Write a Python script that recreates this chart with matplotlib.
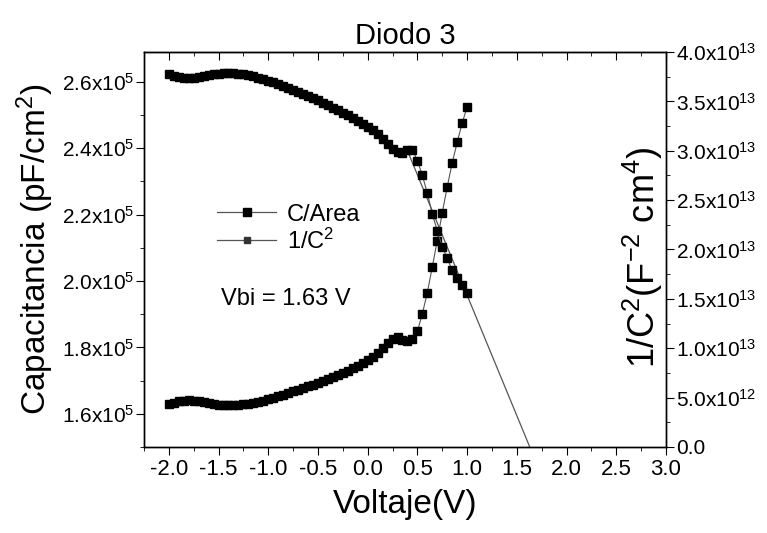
import numpy as np
import matplotlib
matplotlib.use('Agg')
from matplotlib import pyplot as plt
from matplotlib.ticker import MultipleLocator, FuncFormatter
from matplotlib.lines import Line2D

plt.rcParams['font.family'] = ['Liberation Sans', 'DejaVu Sans']
plt.rcParams['mathtext.fontset'] = 'custom'
plt.rcParams['mathtext.rm'] = 'Liberation Sans'
plt.rcParams['mathtext.it'] = 'Liberation Sans'
plt.rcParams['mathtext.default'] = 'regular'

#   Voltage sweep, -2.0 V to 1.0 V in 0.05 V steps
voltaje = [-2.00, -1.95, -1.90, -1.85, -1.80, -1.75, -1.70, -1.65, -1.60, -1.55,
           -1.50, -1.45, -1.40, -1.35, -1.30, -1.25, -1.20, -1.15, -1.10, -1.05,
           -1.00, -0.95, -0.90, -0.85, -0.80, -0.75, -0.70, -0.65, -0.60, -0.55,
           -0.50, -0.45, -0.40, -0.35, -0.30, -0.25, -0.20, -0.15, -0.10, -0.05,
           0.00, 0.05, 0.10, 0.15, 0.20, 0.25, 0.30, 0.35, 0.40, 0.45,
           0.50, 0.55, 0.60, 0.65, 0.70, 0.75, 0.80, 0.85, 0.90, 0.95, 1.00]

#   C/Area in units of 1e5 pF/cm2
c_area = [1.628, 1.633, 1.638, 1.640, 1.641, 1.640, 1.638, 1.635, 1.632, 1.629,
          1.627, 1.626, 1.625, 1.625, 1.626, 1.628, 1.630, 1.633, 1.636, 1.640,
          1.644, 1.648, 1.653, 1.658, 1.663, 1.668, 1.673, 1.678, 1.683, 1.688,
          1.694, 1.700, 1.705, 1.711, 1.717, 1.724, 1.730, 1.737, 1.745, 1.753,
          1.762, 1.772, 1.784, 1.798, 1.813, 1.826, 1.831, 1.823, 1.820, 1.826,
          1.848, 1.902, 1.965, 2.043, 2.122, 2.206, 2.284, 2.356, 2.418, 2.476, 2.524]

#   1/C^2 in units of 1e13 F^-2 cm^4
inv_c2 = [3.78, 3.76, 3.75, 3.74, 3.74, 3.74, 3.75, 3.76, 3.77, 3.775,
          3.78, 3.785, 3.785, 3.785, 3.78, 3.775, 3.765, 3.755, 3.74, 3.725,
          3.71, 3.695, 3.675, 3.655, 3.635, 3.615, 3.595, 3.575, 3.55, 3.53,
          3.51, 3.485, 3.46, 3.435, 3.41, 3.385, 3.36, 3.33, 3.30, 3.27,
          3.24, 3.21, 3.17, 3.12, 3.07, 3.02, 2.99, 2.98, 3.005, 3.01,
          2.90, 2.75, 2.57, 2.36, 2.19, 2.03, 1.91, 1.79, 1.71, 1.64, 1.56]

#   linear fit to 1/C^2, crossing zero at Vbi
fit_v = [0.40, 1.63]
fit_y = [3.00, 0.0]

c_area = np.array(c_area) * 1e5
inv_c2 = np.array(inv_c2) * 1e13
fit_y = np.array(fit_y) * 1e13


def sci_fmt(v, pos):
    if abs(v) < 1e-9:
        return '0.0'
    e = int(np.floor(np.log10(abs(v)) + 1e-9))
    m = v / 10 ** e
    return r'%.1fx10$^{%d}$' % (m, e)


fig = plt.figure(figsize=(7.67, 5.33), dpi=100)
ax = fig.add_axes([0.1877, 0.1614, 0.6806, 0.741])
ax2 = ax.twinx()

ax.plot(voltaje, c_area, '-', color='#555555', lw=0.8,
        marker='s', ms=5.5, mfc='black', mec='black', zorder=3)
ax2.plot(voltaje, inv_c2, '-', color='#555555', lw=0.8,
         marker='s', ms=5.5, mfc='black', mec='black', zorder=3)
ax2.plot(fit_v, fit_y, '-', color='#555555', lw=0.9)

ax.set_xlim(-2.25, 3.0)
ax.set_ylim(1.5e5, 2.69e5)
ax2.set_ylim(0, 4.0e13)

ax.xaxis.set_major_locator(MultipleLocator(0.5))
ax.xaxis.set_minor_locator(MultipleLocator(0.25))
ax.xaxis.set_major_formatter(FuncFormatter(lambda v, p: '%.1f' % (round(v, 2) + 0.0)))
ax.yaxis.set_major_locator(MultipleLocator(0.2e5))
ax.yaxis.set_minor_locator(MultipleLocator(0.1e5))
ax.yaxis.set_major_formatter(FuncFormatter(sci_fmt))
ax2.yaxis.set_major_locator(MultipleLocator(0.5e13))
ax2.yaxis.set_minor_locator(MultipleLocator(0.25e13))
ax2.yaxis.set_major_formatter(FuncFormatter(sci_fmt))

ax.tick_params(axis='x', which='both', direction='out', top=False, labelsize=16, pad=3)
ax.tick_params(axis='x', which='major', length=6)
ax.tick_params(axis='x', which='minor', length=3)
ax.tick_params(axis='y', which='major', direction='out', length=6, labelsize=15, pad=1)
ax.tick_params(axis='y', which='minor', direction='out', length=3)
ax2.tick_params(axis='y', which='major', direction='out', length=6, labelsize=15, pad=1)
ax2.tick_params(axis='y', which='minor', direction='out', length=3)

#   top axis ticks pointing inward
sec = ax.secondary_xaxis('top')
sec.xaxis.set_major_locator(MultipleLocator(0.5))
sec.xaxis.set_minor_locator(MultipleLocator(0.25))
sec.tick_params(which='both', direction='in', labeltop=False)
sec.tick_params(which='major', length=6)
sec.tick_params(which='minor', length=3)

for a in (ax, ax2):
    for s in a.spines.values():
        s.set_linewidth(1.0)

ax.set_xlabel('Voltaje(V)', fontsize=24, labelpad=6)
ax.set_ylabel(r'Capacitancia (pF/cm$^2$)', fontsize=24, labelpad=4)
ax2.set_ylabel(r'1/C$^2$(F$^{-2}$ cm$^4$)', fontsize=26, rotation=90)
#   the right label sits inside the frame, as in the original
ax2.yaxis.set_label_coords(0.913, 0.48)
ax.set_title('Diodo 3', fontsize=21, pad=6)

handles = [Line2D([], [], color='#555555', lw=0.9, marker='s', ms=6, mfc='black', mec='black'),
           Line2D([], [], color='#555555', lw=0.9, marker='s', ms=4.5, mfc='#333333', mec='#333333')]
leg = ax.legend(handles, ['C/Area', r'1/C$^2$'], loc='upper left',
                bbox_to_anchor=(0.1, 0.67), frameon=False, fontsize=17,
                handlelength=2.5, handletextpad=0.45, labelspacing=0.12)

ax.text(0.148, 0.36, 'Vbi = 1.63 V', transform=ax.transAxes, fontsize=17)

fig.savefig('out.png', dpi=100)
